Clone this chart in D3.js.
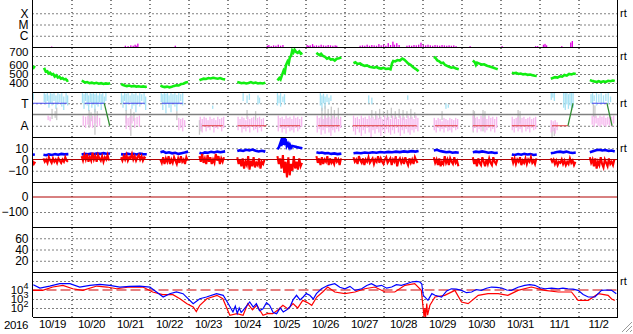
<!DOCTYPE html>
<html>
<head>
<meta charset="utf-8">
<script src="https://cdn.jsdelivr.net/npm/d3@7"></script>
<style>
  body { margin: 0; background: #fff; }
  svg { display: block; font-family: "Liberation Sans", Arial, sans-serif; }
</style>
</head>
<body>
<svg id="chart" width="633" height="334"></svg>
<script>
// time is kept as days after 2016-10-19 00:00 UT
const startDay = Date.UTC(2016, 9, 19);
const endDay = Date.UTC(2016, 10, 3);
const DAY = 864e5;
const dayLabels = ["10/19","10/20","10/21","10/22","10/23","10/24","10/25","10/26","10/27","10/28","10/29","10/30","10/31","11/1","11/2"];

// x-ray flux [t, W/m2]
const xray = [
  [0.49,1.1e-7],[2.38,1.3e-7],[2.45,1.2e-7],[2.52,1.4e-7],[2.58,1.3e-7],[2.63,1.6e-7],[2.66,1.3e-7],[2.7,2.0e-7],
  [3.66,1.3e-7],
  [6.02,1.3e-7],[6.06,1.5e-7],[6.12,1.2e-7],[6.18,1.4e-7],[6.24,1.3e-7],[6.3,1.6e-7],[6.36,1.3e-7],[6.42,1.5e-7],
  [7.04,1.5e-7],[7.08,1.3e-7],[7.12,1.4e-7],[7.18,1.8e-7],[7.22,1.3e-7],[7.28,1.4e-7],[7.34,1.3e-7],[7.4,1.6e-7],
  [7.46,1.4e-7],[7.52,1.3e-7],[7.58,1.5e-7],[7.64,1.4e-7],[7.7,1.3e-7],[7.76,1.4e-7],[7.8,1.3e-7],
  [8.4,1.3e-7],[8.46,1.4e-7],[8.52,1.3e-7],[8.58,1.6e-7],[8.64,1.3e-7],[8.7,1.5e-7],[8.76,1.4e-7],[8.82,1.3e-7],
  [8.88,1.8e-7],[8.94,1.4e-7],[9.0,1.6e-7],[9.06,1.3e-7],[9.12,2.2e-7],[9.18,1.5e-7],[9.24,3.0e-7],[9.28,1.6e-7],
  [9.34,2.2e-7],[9.4,1.5e-7],[9.6,1.3e-7],[9.66,1.4e-7],[9.72,1.3e-7],[9.78,1.5e-7],[9.84,1.4e-7],[9.9,1.6e-7],
  [9.96,2.4e-7],[10.02,1.5e-7],[10.08,1.4e-7],[10.14,1.6e-7],[10.2,1.4e-7],[10.26,1.3e-7],[10.32,1.5e-7],
  [10.38,1.4e-7],[10.44,1.3e-7],[10.5,1.5e-7],[10.56,1.4e-7],[10.62,1.3e-7],[10.68,1.4e-7],[10.74,1.3e-7],
  [10.8,1.4e-7],[10.86,1.2e-7],[11.22,1.2e-7],[12.04,1.2e-7],[12.9,1.2e-7],[12.95,1.2e-7],
  [13.1,1.6e-7],[13.14,1.9e-7],[13.18,1.4e-7],[13.57,1.2e-7],[13.8,2.5e-7],[13.84,3.4e-7]
];

// solar wind speed [t, km/s], null = gap
const speed = [
  [0.0,585],[0.03,570],[0.06,590],null,
  [0.28,548],[0.31,555],[0.34,525],[0.38,530],[0.41,505],[0.45,515],[0.49,495],[0.53,500],[0.57,472],[0.61,485],
  [0.65,460],[0.69,470],[0.73,448],[0.77,455],[0.81,440],[0.85,445],[0.89,425],[0.92,430],null,
  [1.26,425],[1.3,418],[1.35,405],[1.4,410],[1.46,398],[1.52,404],[1.58,395],[1.64,402],[1.7,392],[1.76,398],
  [1.82,390],[1.88,396],[1.94,392],[1.99,398],null,
  [2.27,392],[2.31,380],[2.36,372],[2.42,366],[2.48,372],[2.54,362],[2.6,368],[2.66,360],[2.72,364],[2.78,358],
  [2.84,362],[2.9,356],[2.93,360],null,
  [3.28,372],[3.33,362],[3.39,355],[3.45,360],[3.51,352],[3.57,358],[3.63,368],[3.69,375],[3.75,372],[3.81,388],
  [3.87,392],[3.93,405],[3.99,412],null,
  [4.28,430],[4.33,440],[4.39,448],[4.45,445],[4.51,455],[4.57,450],[4.63,458],[4.69,452],[4.75,448],[4.81,455],
  [4.87,445],[4.94,440],null,
  [5.25,410],[5.3,405],[5.36,398],[5.42,402],[5.48,395],[5.54,400],[5.6,410],[5.66,398],[5.72,405],[5.78,395],
  [5.84,400],[5.9,395],[5.97,402],null,
  [6.28,430],[6.33,455],[6.36,440],[6.4,490],[6.44,540],[6.47,520],[6.5,600],[6.54,640],[6.57,620],[6.6,690],
  [6.63,700],[6.66,760],[6.69,740],[6.72,770],[6.76,745],[6.8,735],[6.84,750],[6.88,725],[6.92,735],null,
  [7.28,735],[7.32,720],[7.36,710],[7.4,725],[7.45,700],[7.5,690],[7.55,670],[7.6,680],[7.65,660],[7.7,665],
  [7.75,650],[7.8,670],[7.86,675],[7.92,685],null,
  [8.23,620],[8.28,630],[8.33,612],[8.4,618],[8.46,600],[8.52,590],[8.58,595],[8.64,580],[8.7,575],[8.76,570],
  [8.82,578],[8.88,565],[8.94,560],[9.0,568],[9.06,556],[9.12,560],[9.18,552],[9.22,620],[9.25,645],[9.3,640],
  [9.36,655],[9.42,650],[9.48,672],[9.53,660],[9.58,640],[9.63,618],[9.7,600],[9.76,575],[9.83,555],[9.9,530],null,
  [10.29,690],[10.33,680],[10.38,650],[10.43,640],[10.48,620],[10.53,625],[10.58,600],[10.63,590],[10.68,580],
  [10.74,570],[10.8,575],[10.86,560],[10.93,552],null,
  [11.29,650],[11.34,630],[11.37,600],[11.4,625],[11.46,615],[11.52,605],[11.58,608],[11.64,595],[11.7,585],
  [11.76,578],[11.82,570],[11.88,560],[11.93,552],null,
  [12.29,515],[12.34,508],[12.4,512],[12.46,500],[12.52,505],[12.58,496],[12.64,500],[12.7,490],[12.76,494],
  [12.82,485],[12.88,480],[12.93,478],null,
  [13.29,448],[13.34,455],[13.4,465],[13.46,460],[13.52,475],[13.58,470],[13.64,490],[13.7,482],[13.76,500],
  [13.82,495],[13.88,505],[13.93,500],null,
  [14.29,432],[14.34,425],[14.4,418],[14.46,412],[14.52,420],[14.58,410],[14.64,418],[14.7,412],[14.76,425],
  [14.82,420],[14.88,428],[14.93,422]
];

// T / A state, level +1 = T, -1 = A : [t start, t end, level]
const stateRuns = [
  [0.0,0.88,1],[1.34,1.84,1],[2.32,2.88,1],[3.31,3.85,1],
  [4.35,4.88,-1],[5.26,6.0,-1],[6.34,6.86,-1],[7.32,7.88,-1],[8.21,9.85,-1],[10.32,10.9,-1],
  [11.29,11.85,-1],[12.29,12.88,-1],[13.32,13.73,-1],[14.34,14.73,1]
];
// state changes inside a data window [t0, from, t1, to]
const stateSwitch = [[1.84,1,1.98,-1],[13.73,-1,13.86,1],[14.73,1,14.86,-1]];

// scatter in the T/A panel: [t, top, bottom]
const cyanBars = [
  [0.02,1.9,1.3],[0.3,1.9,1.1],[0.34,1.8,0.9],[0.38,1.95,1.2],[0.42,1.7,0.6],[0.46,1.9,1.0],[0.5,1.85,0.8],
  [0.55,1.9,1.2],[0.6,1.7,0.5],[0.65,1.9,0.9],[0.7,1.8,1.1],[0.75,1.9,0.7],[0.8,1.6,0.4],[0.86,1.9,1.0],[0.9,1.7,0.8],
  [1.28,1.9,1.0],[1.32,1.8,0.5],[1.36,1.95,1.2],[1.4,1.9,0.8],[1.44,1.7,0.3],[1.48,1.9,1.1],[1.52,1.85,0.6],
  [1.56,1.9,1.0],[1.6,1.8,0.2],[1.64,1.9,0.9],[1.68,1.7,0.7],[1.72,1.9,1.1],[1.76,1.8,0.4],[1.8,1.9,1.0],
  [1.84,1.6,0.8],[1.88,1.9,1.2],
  [2.28,1.9,1.0],[2.32,1.7,0.6],[2.36,1.9,1.2],[2.4,1.85,0.3],[2.45,1.9,0.9],[2.5,1.7,1.1],[2.55,1.9,0.5],
  [2.6,1.8,0.8],[2.65,1.9,0.2],[2.7,1.7,1.0],[2.75,1.9,0.7],[2.8,1.8,1.2],[2.86,1.9,0.9],[2.9,1.6,0.4],
  [3.3,1.9,1.1],[3.34,1.8,0.4],[3.38,1.9,0.9],[3.42,1.85,0.1],[3.46,1.9,1.0],[3.5,1.7,0.6],[3.55,1.9,0.2],
  [3.6,1.8,1.0],[3.65,1.9,0.7],[3.7,1.75,0.3],[3.75,1.9,0.9],[3.8,1.8,1.2],[3.85,1.9,0.8],
  [4.62,0.8,0.5],[5.4,1.9,1.2],[5.5,1.7,1.0],[5.56,1.85,1.3],[5.78,1.7,0.9],[5.82,1.5,1.0],
  [6.28,1.9,0.8],[6.32,1.7,1.0],[6.36,1.9,0.7],[6.42,1.6,1.1],[6.46,1.8,0.9],
  [7.38,1.9,0.8],[7.42,1.7,0.3],[7.46,1.85,1.0],[7.5,1.6,0.5],[7.55,1.8,1.1],[7.6,1.5,0.9],[7.65,1.7,1.2],
  [8.62,1.7,1.0],[8.7,1.5,0.9],[9.62,1.7,1.3],[10.6,1.0,0.5],[10.66,0.9,0.6],
  [13.3,2,1.3],[13.34,1.9,1.5],[13.38,2,1.2],[13.62,2,0.6],[13.66,1.9,0.4],[13.7,2,0.9],[13.74,1.8,0.5],
  [13.78,2,0.8],[13.82,1.9,0.4],[13.86,2,0.6],
  [14.32,1.8,1.0],[14.36,1.9,0.9],[14.4,1.7,1.2],[14.46,1.9,0.8],[14.52,1.8,1.1],[14.58,1.9,0.9],[14.64,1.7,1.0],
  [14.7,1.85,1.2],[14.76,1.9,0.9],[14.82,1.6,1.1]
];
const grayBars = [
  [0.5,0.5,-0.4],[0.58,0.3,-0.3],[0.62,0.6,-0.5],[1.45,0.4,-1.2],[1.5,0.2,-0.6],[1.6,0.5,-1.8],[1.66,0.3,-0.8],
  [2.4,0.4,-0.8],[2.52,0.5,-1.9],[2.6,0.2,-0.6],[3.7,0.3,-0.5],[4.28,-0.5,-1.8],[4.32,-0.8,-1.5],
  [5.5,0.4,-0.4],[5.72,0.3,-0.6],[7.42,0.6,-1.0],[7.5,0.8,-1.1],[7.58,0.5,-0.9],[7.66,0.7,-1.2],[7.74,0.4,-0.8],
  [7.84,0.6,-1.0],[8.7,0.4,-0.3],[8.8,0.3,-0.5],[8.9,0.5,-0.4],[9.0,0.3,-0.2],[9.1,0.4,-0.5],[9.2,0.6,-0.3],
  [9.3,0.3,-0.4],[9.4,0.5,-0.3],[9.5,0.4,-0.5],[9.6,0.3,-0.3],[9.7,0.5,-0.4],[9.8,0.2,-0.3],[10.5,0.3,-0.5],
  [11.3,0.4,-1.6],[11.33,0.3,-1.2],[11.55,0.4,-1.5],[11.6,0.3,-1.0],[12.45,0.4,-1.1],[12.5,0.3,-0.8],
  [13.32,-1.1,-2],[13.38,-1.2,-1.9],[14.38,1.0,-0.2],[14.42,0.8,-0.3]
];
const pinkBars = [
  [0.4,-0.1,-0.5],[0.45,-0.2,-0.6],
  [1.3,-0.1,-1.0],[1.36,-0.2,-1.2],[1.42,-0.1,-0.9],[1.48,-0.3,-1.1],[1.54,-0.1,-1.2],[1.6,-0.2,-0.8],
  [1.66,-0.1,-1.1],[1.72,-0.3,-1.0],
  [2.4,-0.1,-1.3],[2.45,-0.3,-1.0],[2.5,-0.2,-1.4],[2.55,-0.1,-0.8],[2.62,-0.3,-1.2],[2.68,-0.2,-0.9],[2.74,-0.1,-1.1],
  [3.75,-0.3,-1.4],[3.8,-0.4,-1.2],[3.85,-0.3,-1.5],[3.9,-0.5,-1.1],
  [4.3,-0.2,-1.3],[4.35,-0.4,-1.6],[4.4,-0.2,-1.1],[4.45,-0.3,-1.5],[4.5,-0.5,-1.2],[4.55,-0.2,-1.4],[4.6,-0.4,-1.0],
  [4.65,-0.3,-1.6],[4.7,-0.5,-1.2],[4.75,-0.2,-1.3],[4.8,-0.4,-1.1],[4.85,-0.3,-1.5],[4.9,-0.2,-1.2],
  [5.27,-0.2,-1.4],[5.32,-0.4,-1.1],[5.37,-0.2,-1.6],[5.42,-0.3,-1.3],[5.47,-0.5,-1.5],[5.52,-0.2,-1.2],
  [5.57,-0.4,-1.6],[5.62,-0.3,-1.1],[5.67,-0.2,-1.4],[5.72,-0.5,-1.3],[5.77,-0.3,-1.6],[5.82,-0.2,-1.2],
  [5.87,-0.4,-1.5],[5.92,-0.3,-1.1],
  [6.3,-0.1,-1.5],[6.35,-0.3,-1.2],[6.4,-0.2,-1.6],[6.45,-0.4,-1.3],[6.5,-0.1,-1.7],[6.55,-0.3,-1.2],[6.6,-0.2,-1.5],
  [6.65,-0.4,-1.4],[6.7,-0.1,-1.6],[6.75,-0.3,-1.2],[6.8,-0.2,-1.5],[6.85,-0.4,-1.3],[6.9,-0.2,-1.1],
  [7.3,-0.1,-1.6],[7.35,-0.3,-1.3],[7.4,-0.2,-1.8],[7.45,-0.4,-1.4],[7.5,-0.1,-1.7],[7.55,-0.3,-1.2],[7.6,-0.2,-1.6],
  [7.65,-0.4,-1.9],[7.7,-0.1,-1.4],[7.75,-0.3,-1.6],[7.8,-0.2,-1.3],[7.85,-0.4,-1.5],[7.9,-0.2,-1.2],
  [8.23,-0.1,-1.5],[8.28,-0.3,-1.8],[8.33,-0.2,-1.3],[8.38,-0.4,-1.6],[8.43,-0.1,-1.9],[8.48,-0.3,-1.4],
  [8.53,-0.2,-1.7],[8.58,-0.4,-1.2],[8.63,-0.1,-1.6],[8.68,-0.3,-2.0],[8.73,-0.2,-1.4],[8.78,-0.4,-1.7],
  [8.83,-0.1,-1.3],[8.88,-0.3,-1.6],[8.93,-0.2,-1.9],[8.98,-0.4,-1.4],[9.03,-0.1,-1.7],[9.08,-0.3,-1.3],
  [9.13,-0.2,-1.6],[9.18,-0.4,-1.8],[9.23,-0.1,-1.4],[9.28,-0.3,-1.7],[9.33,-0.2,-1.2],[9.38,-0.4,-1.6],
  [9.43,-0.1,-1.9],[9.48,-0.3,-1.4],[9.53,-0.2,-1.7],[9.58,-0.4,-1.3],[9.63,-0.1,-1.6],[9.68,-0.3,-1.8],
  [9.73,-0.2,-1.4],[9.78,-0.4,-1.6],[9.83,-0.1,-1.3],[9.88,-0.3,-1.5],
  [10.3,-0.3,-1.4],[10.35,-0.5,-1.6],[10.4,-0.3,-1.2],[10.45,-0.4,-1.5],[10.5,-0.6,-1.3],[10.55,-0.3,-1.6],
  [10.6,-0.4,-1.2],[10.65,-0.5,-1.5],[10.7,-0.3,-1.4],[10.75,-0.4,-1.6],[10.8,-0.5,-1.2],[10.85,-0.3,-1.4],[10.9,-0.4,-1.3],
  [11.3,-0.1,-1.5],[11.35,-0.3,-1.2],[11.4,-0.2,-1.6],[11.45,-0.4,-1.3],[11.5,-0.1,-1.5],[11.55,-0.3,-1.1],
  [11.6,-0.2,-1.6],[11.65,-0.4,-1.4],[11.7,-0.1,-1.2],[11.75,-0.3,-1.5],[11.8,-0.2,-1.3],[11.85,-0.4,-1.6],[11.9,-0.2,-1.2],
  [12.3,-0.2,-1.4],[12.35,-0.4,-1.6],[12.4,-0.3,-1.2],[12.45,-0.2,-1.5],[12.5,-0.5,-1.3],[12.55,-0.3,-1.6],
  [12.6,-0.2,-1.1],[12.65,-0.4,-1.5],[12.7,-0.3,-1.3],[12.75,-0.2,-1.6],[12.8,-0.4,-1.2],[12.85,-0.3,-1.4],[12.9,-0.2,-1.3],
  [13.3,-0.5,-1.6],[13.35,-0.6,-1.5],[13.4,-0.5,-1.7],[13.45,-0.7,-1.4],
  [14.35,-0.1,-0.9],[14.4,-0.2,-1.1],[14.45,-0.1,-0.8],[14.5,-0.3,-1.0],[14.55,-0.1,-1.1],[14.6,-0.2,-0.9],
  [14.65,-0.1,-1.0],[14.7,-0.3,-1.1],[14.75,-0.2,-0.9],[14.8,-0.1,-1.0],[14.85,-0.2,-1.1],[14.9,-0.1,-0.8]
];

// IMF total field Bt [t, nT], null = gap
const bt = [
  [0.0,4.5],[0.06,4.2],null,
  [0.28,4.2],[0.35,3.8],[0.42,4.5],[0.5,4.0],[0.58,4.8],[0.66,4.3],[0.74,5.0],[0.82,4.6],[0.92,4.8],null,
  [1.26,4.5],[1.34,5.0],[1.42,4.6],[1.5,5.2],[1.58,4.8],[1.66,5.4],[1.74,5.0],[1.82,5.6],[1.9,5.1],[1.99,5.3],null,
  [2.27,4.8],[2.35,4.4],[2.43,5.2],[2.51,4.7],[2.59,5.0],[2.67,4.5],[2.75,5.3],[2.83,4.8],[2.93,4.6],null,
  [3.28,6.5],[3.35,7.2],[3.42,5.8],[3.5,6.4],[3.58,5.5],[3.66,6.0],[3.74,5.0],[3.82,5.6],[3.9,6.2],[3.99,7.0],null,
  [4.28,6.0],[4.35,5.2],[4.42,6.3],[4.5,6.0],[4.58,6.8],[4.66,6.2],[4.74,7.0],[4.82,6.5],[4.94,7.2],null,
  [5.25,7.5],[5.32,8.2],[5.4,7.6],[5.48,8.6],[5.56,8.0],[5.64,8.8],[5.72,7.8],[5.8,7.2],[5.88,7.8],[5.97,7.0],null,
  [6.28,9.0],[6.32,11],[6.36,15],[6.38,12],[6.4,19],[6.42,14],[6.43,17],[6.45,13],[6.46,20],[6.48,15],[6.5,16],
  [6.52,12],[6.55,14],[6.58,11],[6.6,13],[6.63,10.5],[6.66,12],[6.72,11.5],[6.78,11],[6.85,10.5],[6.92,10],null,
  [7.28,6.5],[7.35,5.8],[7.42,6.2],[7.5,5.5],[7.58,5.8],[7.66,5.0],[7.74,5.4],[7.82,4.8],[7.92,5.2],null,
  [8.23,5.5],[8.32,6.0],[8.42,5.6],[8.52,6.2],[8.62,5.8],[8.72,6.4],[8.82,6.0],[8.92,6.6],[9.02,6.2],[9.12,6.8],
  [9.22,6.4],[9.32,7.0],[9.42,6.6],[9.52,7.2],[9.62,6.8],[9.72,7.4],[9.82,7.0],[9.9,7.6],null,
  [10.29,8.0],[10.37,8.6],[10.45,7.6],[10.53,7.0],[10.61,6.4],[10.69,6.8],[10.77,6.0],[10.85,6.4],[10.93,6.0],null,
  [11.29,6.4],[11.37,7.0],[11.45,6.6],[11.53,7.2],[11.61,6.6],[11.69,6.0],[11.77,6.4],[11.85,5.8],[11.93,6.0],null,
  [12.29,4.5],[12.37,4.0],[12.45,4.8],[12.53,4.2],[12.61,5.0],[12.69,4.4],[12.77,4.8],[12.85,4.0],[12.93,4.4],null,
  [13.29,5.5],[13.37,6.0],[13.45,6.6],[13.53,7.0],[13.61,6.4],[13.69,7.0],[13.77,6.2],[13.85,5.8],[13.93,6.2],null,
  [14.29,6.5],[14.37,7.4],[14.45,8.2],[14.53,8.6],[14.61,8.0],[14.69,8.4],[14.77,7.6],[14.85,8.0],[14.93,7.2]
];

// IMF Bz, sampled every BZ_STEP days from each window start
const BZ_STEP = 0.035;
const bzRuns = [
  {t: 0.0,  v: [-1,-4,-2]},
  {t: 0.28, v: [1,-2,0,-3,2,-1,-3,1,-2,0,-3,1,-1,-3,0,-2,2,-1,-2]},
  {t: 1.26, v: [3,-1,4,0,5,-2,2,-1,6,0,3,-2,4,1,-1,3,-2,2,0,4,-1]},
  {t: 2.27, v: [2,-1,3,0,4,-1,2,1,5,0,3,-1,2,4,0,3,-1,2,1]},
  {t: 3.28, v: [0,-3,2,-4,1,-2,3,-4,0,-3,2,-1,-4,1,-3,3,-2,0,-4,2,-1]},
  {t: 4.28, v: [3,-2,5,-3,1,-4,4,-2,2,-4,0,-3,5,-1,3,-4,1,-2,2]},
  {t: 5.25, v: [2,-4,0,-6,1,-8,-2,-5,3,-9,-1,-6,2,-7,-3,-5,1,-8,-2,-4,0]},
  {t: 6.28, v: [3,-4,1,-8,4,-12,-2,-16,2,-14,-4,-10,3,-8,-2,-9,1,-6,-3]},
  {t: 7.28, v: [3,-3,1,-5,2,-4,0,-2,3,-5,1,-3,-1,-4,2,-2,0,-5,1]},
  {t: 8.23, v: [2,-2,0,-4,3,-1,-3,1,-5,0,-2,2,-3,-1,1,-4,0,-2,3,-3,1,-2,-4,0,2,-3,-1,1,-5,0,-2,3,-6,-1,1,-3,0,-4,2,-2,-5,1,-3,0,-4,2,-1,-3]},
  {t: 10.29, v: [2,-3,0,-5,1,-6,-2,-4,3,-3,0,-5,1,-2,-4,2,-3,-1,-6]},
  {t: 11.29, v: [2,-4,0,-6,1,-3,-5,2,-2,-6,0,-4,1,-3,-5,2,-2,-4,0]},
  {t: 12.29, v: [2,-3,1,-4,0,-2,2,-5,-1,-3,1,-4,0,-2,2,-3,-1,-4,1]},
  {t: 13.29, v: [1,-2,0,-4,-1,-5,-2,-3,0,-4,-1,-5,-2,-4,1,-3,-1,-5,-2]},
  {t: 14.29, v: [2,-3,0,-6,1,-8,-2,-5,2,-4,-7,0,-3,-6,1,-4,-2,-5,0]}
];

// electron flux, log10 values [t, log10 flux]
const fluxBlue = [
  [0.02,4.59],[0.19,4.22],[0.44,4.44],[0.7,4.7],[0.96,4.7],[1.21,4.33],[1.47,4.52],[1.73,4.63],[1.98,4.52],
  [2.24,4.33],[2.49,4.41],[2.75,4.44],[3.01,4.33],[3.18,3.78],[3.35,3.22],[3.52,3.59],[3.69,3.78],[3.86,3.59],
  [4.12,2.48],[4.29,3.03],[4.46,3.22],[4.72,3.59],[4.89,3.41],[5.02,2.48],[5.14,1.56],[5.2,2.2],[5.25,1.4],
  [5.3,2.0],[5.35,1.5],[5.4,1.74],[5.57,2.67],[5.66,2.1],[5.74,2.48],[5.82,1.7],[5.91,1.92],[6.0,2.6],[6.08,2.3],
  [6.17,1.5],[6.26,1.37],[6.35,2.0],[6.43,1.56],[6.52,1.8],[6.6,2.11],[6.68,2.9],[6.77,3.41],[6.86,2.9],[6.94,3.22],
  [7.02,3.6],[7.11,3.41],[7.2,3.0],[7.28,3.59],[7.41,4.14],[7.58,4.52],[7.75,4.7],[7.88,4.3],[8.01,4.14],
  [8.14,4.4],[8.27,3.96],[8.44,4.14],[8.57,4.5],[8.69,4.7],[8.82,4.4],[8.95,4.52],[9.08,4.2],[9.21,4.33],
  [9.33,4.6],[9.46,4.52],[9.59,4.7],[9.72,4.89],[9.85,4.95],[9.93,4.89],[9.98,4.7],[10.02,3.41],[10.14,2.85],
  [10.24,3.6],[10.32,3.41],[10.49,3.22],[10.62,3.9],[10.74,4.14],[10.87,4.1],[11.0,3.96],[11.13,3.7],[11.26,3.78],
  [11.38,4.05],[11.51,3.96],[11.64,4.2],[11.77,4.33],[11.9,4.3],[12.03,4.22],[12.16,4.0],[12.28,3.96],[12.45,4.3],
  [12.62,4.52],[12.75,4.6],[12.88,4.52],[13.01,4.25],[13.14,4.14],[13.31,4.2],[13.48,4.14],[13.6,4.2],[13.73,4.14],
  [13.86,4.1],[13.99,3.96],[14.12,3.5],[14.25,3.22],[14.42,3.22],[14.59,3.96],[14.72,4.0],[14.85,3.96],[14.97,3.59]
];
const fluxRed = [
  [0.01,3.96],[0.26,3.96],[0.52,4.33],[0.78,4.52],[1.03,4.14],[1.29,3.96],[1.65,4.44],[1.91,4.33],[2.16,4.14],
  [2.49,4.33],[2.83,4.33],[3.08,3.78],[3.34,3.48],[3.6,3.48],[3.78,3.03],[3.96,2.48],[4.12,2.11],[4.2,1.6],
  [4.29,2.3],[4.47,3.03],[4.73,3.41],[4.88,3.03],[5.06,1.19],[5.24,1.37],[5.4,1.19],[5.52,2.48],[5.64,1.8],
  [5.75,2.3],[5.91,1.19],[6.04,1.4],[6.16,1.37],[6.3,1.8],[6.42,2.3],[6.55,1.9],[6.68,2.48],[6.8,2.0],[6.93,2.85],
  [7.05,2.6],[7.16,2.3],[7.29,3.22],[7.44,3.78],[7.57,4.33],[7.75,3.78],[8.01,3.59],[8.27,3.78],[8.52,4.14],
  [8.78,4.33],[9.04,3.78],[9.29,3.78],[9.55,4.52],[9.8,4.7],[9.97,3.96],[10.04,1.0],[10.06,2.0],[10.08,1.0],
  [10.11,2.5],[10.13,1.2],[10.19,2.3],[10.32,3.22],[10.57,3.41],[10.83,3.96],[11.0,2.67],[11.17,2.48],[11.43,3.41],
  [11.68,3.59],[11.94,3.59],[12.19,3.41],[12.45,3.96],[12.79,4.33],[13.14,3.96],[13.48,3.78],[13.82,3.78],
  [13.99,2.85],[14.25,2.85],[14.51,3.59],[14.76,3.41],[14.85,3.0],[14.93,2.85]
];

const svg = d3.select("#chart");
const left = 32.5, right = 617.5;
const at = t => new Date(startDay + t * DAY);
const x = d3.scaleUtc().domain([startDay, endDay]).range([left, right]);

// panel scales
const yXray = d3.scaleLog().domain([1e-7, 1e-3]).range([47, 2]);
const ySpeed = d3.scaleLinear().domain([300, 800]).range([92, 47]);
const yState = d3.scaleLinear().domain([-2, 2]).range([137, 92]);
const yB = d3.scaleLinear().domain([-20, 20]).range([182, 137]);
const yDst = d3.scaleLinear().domain([-200, 100]).range([227, 182]);
const yP6 = d3.scaleLinear().domain([0, 80]).range([272, 227]);
const yFlux = d3.scaleLog().domain([1e1, 1e6]).range([317, 272]);

const bounds = [[0, 47], [47, 92], [92, 137], [137, 182], [182, 227], [227, 272], [272, 317]];

const defs = svg.append("defs");
bounds.forEach((b, i) => {
  defs.append("clipPath").attr("id", "clip" + i)
    .append("rect").attr("x", left).attr("y", b[0]).attr("width", right - left).attr("height", b[1] - b[0]);
});

const grid = svg.append("g");
const data = svg.append("g");
const frame = svg.append("g");

function hGrid(scale, values) {
  grid.append("g").attr("transform", `translate(${left},0)`)
    .call(d3.axisLeft(scale).tickValues(values).tickSize(-(right - left)).tickFormat(""))
    .call(g => g.select(".domain").remove())
    .selectAll("line").attr("stroke", "#000").attr("stroke-dasharray", "1,3");
}

function yLabels(scale, values, fmt, size) {
  const g = frame.append("g").attr("transform", `translate(${left},0)`)
    .call(d3.axisLeft(scale).tickValues(values).tickSize(0).tickPadding(4).tickFormat(fmt));
  g.select(".domain").remove();
  g.attr("font-size", size || 12).attr("font-family", null);
  g.selectAll("text").attr("fill", "#000");
  return g;
}

// day gridlines
grid.append("g").attr("transform", "translate(0,317)")
  .call(d3.axisBottom(x).tickValues(d3.range(1, 15).map(at)).tickSize(-317).tickFormat(""))
  .call(g => g.select(".domain").remove())
  .selectAll("line").attr("stroke", "#000").attr("stroke-dasharray", "1,3");

hGrid(yXray, [1e-6, 1e-5, 1e-4]);
hGrid(ySpeed, [400, 500, 600, 700]);
hGrid(yState, [1, -1]);
hGrid(yB, [10, -10]);
hGrid(yDst, [-100]);
hGrid(yP6, [20, 40, 60]);
hGrid(yFlux, [1e2, 1e3, 1e5]);

// panel 1: x-ray
data.append("g").attr("clip-path", "url(#clip0)")
  .selectAll("rect").data(xray).join("rect")
  .attr("x", d => x(at(d[0])) - 0.6).attr("width", 1.3)
  .attr("y", d => yXray(d[1])).attr("height", d => yXray(1e-7) - yXray(d[1]))
  .attr("fill", "#e000e0");

// panel 2: speed
data.append("path").attr("clip-path", "url(#clip1)")
  .attr("d", d3.line().defined(d => d !== null).x(d => x(at(d[0]))).y(d => ySpeed(d[1]))(speed))
  .attr("fill", "none").attr("stroke", "#11ee11").attr("stroke-width", 2.6);

// panel 3: T / A
const p3 = data.append("g").attr("clip-path", "url(#clip2)");
[[cyanBars, "#a6e2f4"], [grayBars, "#c8c8c8"], [pinkBars, "#f6b6ee"]].forEach(([bars, col]) => {
  p3.append("g").selectAll("rect").data(bars).join("rect")
    .attr("x", d => x(at(d[0])) - 0.6).attr("width", 1.3)
    .attr("y", d => yState(d[1])).attr("height", d => yState(d[2]) - yState(d[1]))
    .attr("fill", col);
});
p3.append("line").attr("x1", left).attr("x2", right)
  .attr("y1", yState(0)).attr("y2", yState(0)).attr("stroke", "#808080").attr("stroke-width", 1.3);
p3.selectAll(".run").data(stateRuns).join("line").attr("class", "run")
  .attr("x1", d => x(at(d[0]))).attr("x2", d => x(at(d[1])))
  .attr("y1", d => yState(d[2])).attr("y2", d => yState(d[2]))
  .attr("stroke", d => d[2] > 0 ? "#4848f0" : "#e23a3a").attr("stroke-width", 1.2);
p3.selectAll(".sw").data(stateSwitch).join("line").attr("class", "sw")
  .attr("x1", d => x(at(d[0]))).attr("y1", d => yState(d[1]))
  .attr("x2", d => x(at(d[2]))).attr("y2", d => yState(d[3]))
  .attr("stroke", "#2c8a2c").attr("stroke-width", 1.2);

// panel 4: IMF
const p4 = data.append("g").attr("clip-path", "url(#clip3)");
p4.append("path")
  .attr("d", d3.line().defined(d => d !== null).x(d => x(at(d[0]))).y(d => yB(d[1]))(bt))
  .attr("fill", "none").attr("stroke", "#0000ff").attr("stroke-width", 2.6);
const bzLine = d3.line().x(d => x(at(d[0]))).y(d => yB(d[1]));
p4.selectAll(".bz").data(bzRuns).join("path").attr("class", "bz")
  .attr("d", r => bzLine(r.v.map((v, i) => [r.t + i * BZ_STEP, v])))
  .attr("fill", "none").attr("stroke", "#ff0000").attr("stroke-width", 2.1);
p4.append("line").attr("x1", left).attr("x2", right)
  .attr("y1", yB(0)).attr("y2", yB(0)).attr("stroke", "#b00000");

// panel 5: zero line
data.append("line").attr("x1", left).attr("x2", right)
  .attr("y1", yDst(0)).attr("y2", yDst(0)).attr("stroke", "#b00000");

// panel 7: electron flux
const p7 = data.append("g").attr("clip-path", "url(#clip6)");
p7.append("line").attr("x1", left).attr("x2", right)
  .attr("y1", yFlux(1e4)).attr("y2", yFlux(1e4))
  .attr("stroke", "#d00000").attr("stroke-width", 1.2).attr("stroke-dasharray", "10,4");
const fluxLine = d3.line().x(d => x(at(d[0]))).y(d => yFlux(Math.pow(10, d[1])));
p7.append("path").attr("d", fluxLine(fluxRed)).attr("fill", "none").attr("stroke", "#ff0000").attr("stroke-width", 1.2);
p7.append("path").attr("d", fluxLine(fluxBlue)).attr("fill", "none").attr("stroke", "#0000ff").attr("stroke-width", 1.2);

// frame
bounds.forEach(b => {
  frame.append("line").attr("x1", left).attr("x2", right).attr("y1", b[1]).attr("y2", b[1])
    .attr("stroke", "#000").attr("shape-rendering", "crispEdges");
});
frame.append("line").attr("x1", left).attr("x2", left).attr("y1", 0).attr("y2", 317)
  .attr("stroke", "#000").attr("shape-rendering", "crispEdges");
frame.append("line").attr("x1", right).attr("x2", right).attr("y1", 0).attr("y2", 317)
  .attr("stroke", "#000").attr("shape-rendering", "crispEdges");

// y labels
yLabels(yXray, [1e-4, 1e-5, 1e-6], d => d >= 1e-4 ? "X" : d >= 1e-5 ? "M" : "C");
yLabels(ySpeed, [400, 500, 600, 700], d3.format("d"), 11.5)
  .selectAll(".tick").filter(d => d === 700).select("text").attr("dy", "-0.05em");
yLabels(yState, [1, -1], d => d > 0 ? "T" : "A");
yLabels(yB, [10, 0, -10], d3.format("d"));
yLabels(yDst, [0, -100], d3.format("d"));
yLabels(yP6, [20, 40, 60], d3.format("d"));
yLabels(yFlux, [1e4, 1e3, 1e2], () => "", 11.5)
  .selectAll(".tick text").each(function (d) {
    const t = d3.select(this);
    t.append("tspan").text("10");
    t.append("tspan").attr("dy", "-5").attr("font-size", 9).text(Math.round(Math.log10(d)));
  });

// x labels at local noon
const xa = frame.append("g").attr("transform", "translate(0,317)")
  .call(d3.axisBottom(x).tickValues(dayLabels.map((s, i) => at(i + 0.5))).tickSize(0).tickPadding(3)
    .tickFormat((d, i) => dayLabels[i]));
xa.select(".domain").remove();
xa.attr("font-size", 11.5).attr("font-family", null);
xa.selectAll("text").attr("fill", "#000").attr("letter-spacing", "-0.4");
frame.append("text").attr("x", 4).attr("y", 329).attr("font-size", 11.5).attr("letter-spacing", "-0.4").text("2016");

// right side tags
[yXray(1e-4), ySpeed(700), yState(1), yB(10), yFlux(1e5)].forEach(y => {
  frame.append("text").attr("x", 620).attr("y", y + 4).attr("font-size", 11).text("rt");
});

// resize grip
[0, 4, 8].forEach(k => {
  frame.append("line").attr("x1", 632).attr("y1", 322 + k).attr("x2", 622 + k).attr("y2", 332)
    .attr("stroke", "#999");
});
</script>
</body>
</html>
